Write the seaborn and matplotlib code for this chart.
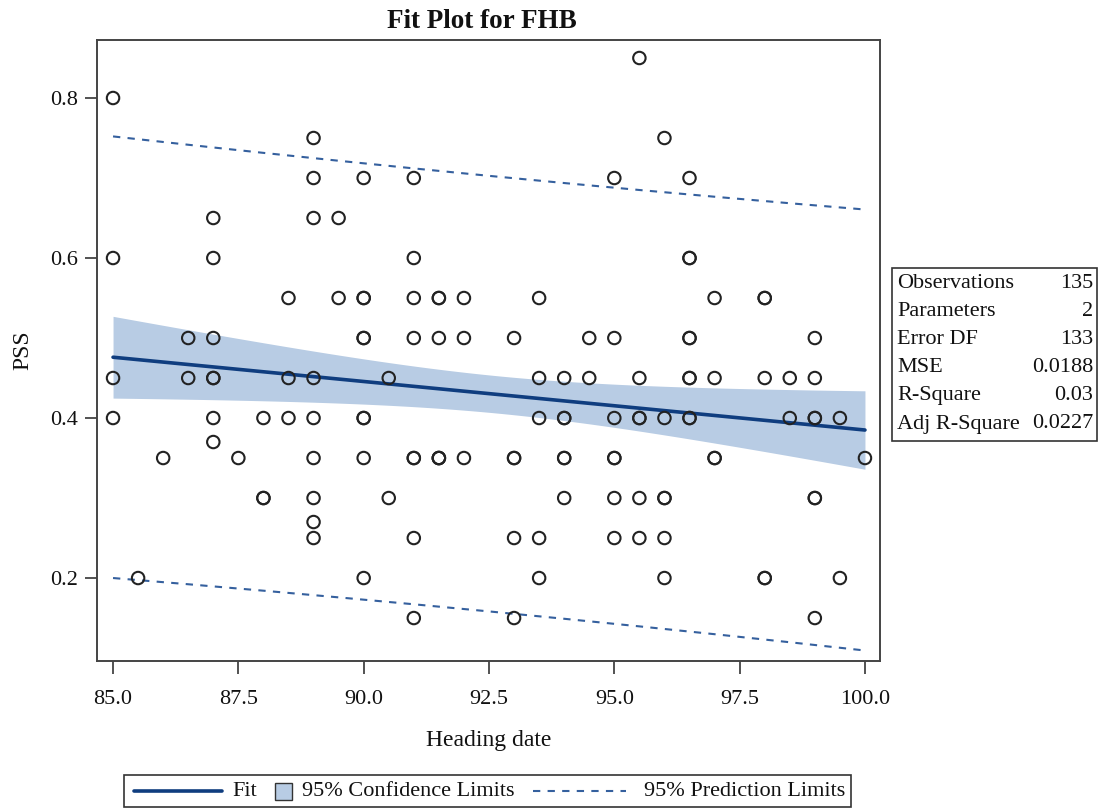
import numpy as np
import pandas as pd
import matplotlib
matplotlib.use("Agg")
import matplotlib.pyplot as plt
import seaborn as sns
from matplotlib.lines import Line2D
from matplotlib.patches import Rectangle

# ---- data ----
heading = [85, 85, 85, 85,
           85.5,
           86,
           86.5, 86.5,
           87, 87, 87, 87, 87, 87, 87,
           87.5,
           88, 88, 88,
           88.5, 88.5, 88.5,
           89, 89, 89, 89, 89, 89, 89, 89, 89,
           89.5, 89.5,
           90, 90, 90, 90, 90, 90, 90, 90, 90,
           90.5, 90.5,
           91, 91, 91, 91, 91, 91, 91, 91,
           91.5, 91.5, 91.5, 91.5, 91.5, 91.5,
           92, 92, 92,
           93, 93, 93, 93, 93,
           93.5, 93.5, 93.5, 93.5, 93.5,
           94, 94, 94, 94, 94, 94,
           94.5, 94.5,
           95, 95, 95, 95, 95, 95, 95,
           95.5, 95.5, 95.5, 95.5, 95.5, 95.5,
           96, 96, 96, 96, 96, 96,
           96.5, 96.5, 96.5, 96.5, 96.5, 96.5, 96.5, 96.5, 96.5,
           97, 97, 97, 97,
           98, 98, 98, 98, 98,
           98.5, 98.5,
           99, 99, 99, 99, 99, 99, 99,
           99.5, 99.5,
           100]
pss = [0.8, 0.6, 0.45, 0.4,
       0.2,
       0.35,
       0.5, 0.45,
       0.65, 0.6, 0.5, 0.45, 0.45, 0.4, 0.37,
       0.35,
       0.4, 0.3, 0.3,
       0.55, 0.45, 0.4,
       0.75, 0.7, 0.65, 0.45, 0.4, 0.35, 0.3, 0.27, 0.25,
       0.65, 0.55,
       0.7, 0.55, 0.55, 0.5, 0.5, 0.4, 0.4, 0.35, 0.2,
       0.45, 0.3,
       0.7, 0.6, 0.55, 0.5, 0.35, 0.35, 0.25, 0.15,
       0.55, 0.55, 0.5, 0.35, 0.35, 0.35,
       0.55, 0.5, 0.35,
       0.5, 0.35, 0.35, 0.25, 0.15,
       0.55, 0.45, 0.4, 0.25, 0.2,
       0.45, 0.4, 0.4, 0.35, 0.35, 0.3,
       0.5, 0.45,
       0.7, 0.5, 0.4, 0.35, 0.35, 0.3, 0.25,
       0.85, 0.45, 0.4, 0.4, 0.3, 0.25,
       0.75, 0.4, 0.3, 0.3, 0.25, 0.2,
       0.7, 0.6, 0.6, 0.5, 0.5, 0.45, 0.45, 0.4, 0.4,
       0.55, 0.45, 0.35, 0.35,
       0.55, 0.55, 0.45, 0.2, 0.2,
       0.45, 0.4,
       0.5, 0.45, 0.4, 0.4, 0.3, 0.3, 0.15,
       0.4, 0.2,
       0.35]

x_ticks = [85.0, 87.5, 90.0, 92.5, 95.0, 97.5, 100.0]
y_ticks = [0.2, 0.4, 0.6, 0.8]

stat_names = ["Observations", "Parameters", "Error DF", "MSE", "R-Square", "Adj R-Square"]
stat_values = ["135", "2", "133", "0.0188", "0.03", "0.0227"]

legend_labels = ["Fit", "95% Confidence Limits", "95% Prediction Limits"]

# fitted line read at the ends of the x range
fit_x = [85.0, 100.0]
fit_y = [0.476, 0.385]
# quantities for the limits (MSE and n from the table; x mean / Sxx estimated)
n_obs = 135
mse = 0.0188
t_crit = 1.978
x_mean = 92.7
sxx = 2110.0

df = pd.DataFrame({"Heading date": heading, "PSS": pss})

# ---- derived limit curves ----
xs = np.linspace(fit_x[0], fit_x[1], 200)
slope = (fit_y[1] - fit_y[0]) / (fit_x[1] - fit_x[0])
yhat = fit_y[0] + slope * (xs - fit_x[0])
se_mean = np.sqrt(mse * (1.0 / n_obs + (xs - x_mean) ** 2 / sxx))
se_pred = np.sqrt(mse + se_mean ** 2)
band = pd.DataFrame({"x": xs, "fit": yhat,
                     "cl_lo": yhat - t_crit * se_mean, "cl_hi": yhat + t_crit * se_mean,
                     "pl_lo": yhat - t_crit * se_pred, "pl_hi": yhat + t_crit * se_pred})

# ---- styling ----
sns.set_theme(style="white")
plt.rcParams["font.family"] = ["Liberation Serif", "DejaVu Serif"]

FIT = "#0f3d7f"
BAND = "#b8cce4"
DASH = "#35609e"
DASHSTYLE = (0, (3.5, 3.5))
TXT = "#111111"

W, H = 1099, 809
fig = plt.figure(figsize=(W / 100, H / 100), dpi=100)
ax = fig.add_axes([97 / W, 1 - 661 / H, 783 / W, 621 / H])

ax.fill_between(band["x"], band["cl_lo"], band["cl_hi"], color=BAND, linewidth=0, zorder=1)
sns.lineplot(data=band, x="x", y="fit", ax=ax, color=FIT, linewidth=2.6, zorder=3)
sns.lineplot(data=band, x="x", y="pl_hi", ax=ax, color=DASH, linewidth=1.5,
             linestyle=DASHSTYLE, zorder=3)
sns.lineplot(data=band, x="x", y="pl_lo", ax=ax, color=DASH, linewidth=1.5,
             linestyle=DASHSTYLE, zorder=3)

sns.scatterplot(data=df, x="Heading date", y="PSS", ax=ax, marker="o",
                s=80, facecolors="none", edgecolor="#222222", linewidth=1.5,
                zorder=4)

ax.set_xlim(84.68, 100.30)
ax.set_ylim(0.0963, 0.8725)
ax.set_xticks(x_ticks)
ax.set_xticklabels([f"{v:.1f}" for v in x_ticks])
ax.set_yticks(y_ticks)
ax.set_yticklabels([f"{v:.1f}" for v in y_ticks])
ax.tick_params(axis="both", which="both", direction="out", length=9,
               width=1.3, color="#444444", labelsize=16, labelcolor=TXT,
               bottom=True, left=True, pad=5)
ax.tick_params(axis="x", pad=12)
for sp in ax.spines.values():
    sp.set_color("#444444")
    sp.set_linewidth(1.4)

ax.set_xlabel("Heading date", fontsize=17, labelpad=15, color=TXT)
ax.set_ylabel("PSS", fontsize=17, labelpad=12, color=TXT)
ax.set_title("Fit Plot for FHB", fontsize=19.5, fontweight="bold", pad=9,
             color=TXT, x=0.4917)

# ---- statistics inset table ----
tx0, tx1 = 897 / W, 1093 / W
top = 1 - 284 / H
step = 28 / H
fig.add_artist(Rectangle((892 / W, 1 - 441 / H), 205 / W, 173 / H,
                         transform=fig.transFigure, fill=False,
                         edgecolor="#333333", linewidth=1.2))
for i, (nm, v) in enumerate(zip(stat_names, stat_values)):
    yy = top - i * step
    fig.text(tx0, yy, nm, fontsize=16, va="center", ha="left", color=TXT)
    fig.text(tx1, yy, v, fontsize=16, va="center", ha="right", color=TXT)

# ---- legend (laid out as in the original) ----
ly = 1 - 791 / H
fig.add_artist(Rectangle((124 / W, 1 - 807 / H), 727 / W, 32 / H,
                         transform=fig.transFigure, fill=False,
                         edgecolor="#333333", linewidth=1.2))
fig.add_artist(Line2D([134 / W, 222 / W], [ly, ly], transform=fig.transFigure,
                      color=FIT, linewidth=2.6))
fig.text(232 / W, ly, legend_labels[0], fontsize=16, va="center", ha="left", color=TXT)
fig.add_artist(Rectangle((275 / W, 1 - 799.5 / H), 17 / W, 17 / H,
                         transform=fig.transFigure, facecolor=BAND,
                         edgecolor="#333333", linewidth=1.0))
fig.text(302 / W, ly, legend_labels[1], fontsize=16, va="center", ha="left", color=TXT)
fig.add_artist(Line2D([533 / W, 626 / W], [ly, ly], transform=fig.transFigure,
                      color=DASH, linewidth=1.5, linestyle=DASHSTYLE))
fig.text(845 / W, ly, legend_labels[2], fontsize=16, va="center", ha="right", color=TXT)

fig.savefig("out.png", dpi=100, facecolor="white")
